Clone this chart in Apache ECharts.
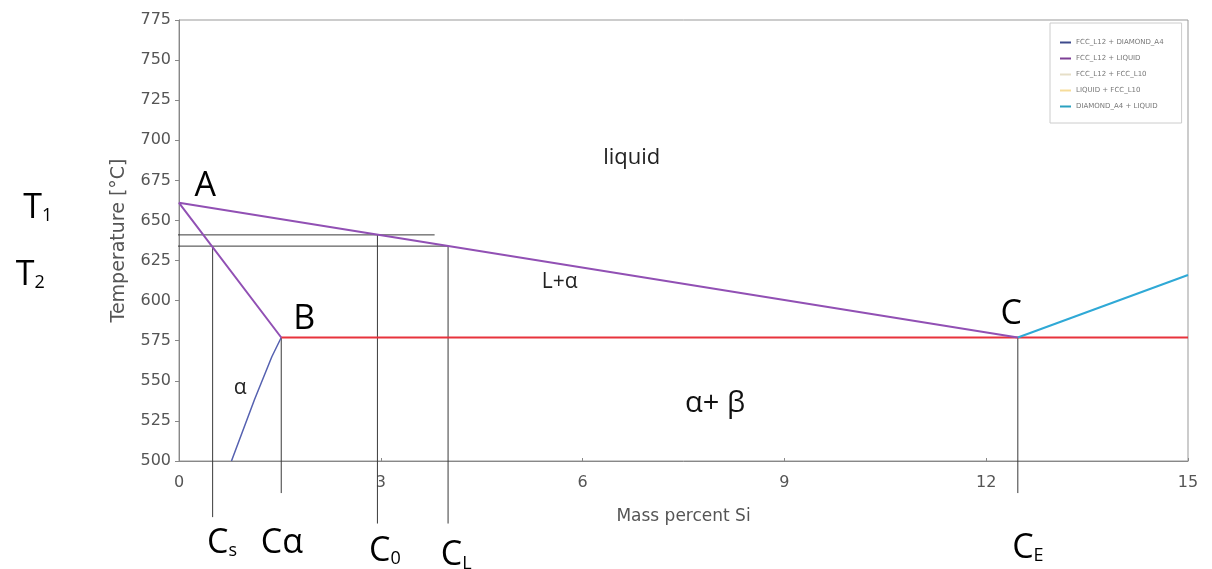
<!DOCTYPE html>
<html>
<head>
<meta charset="utf-8">
<script src="https://cdn.jsdelivr.net/npm/echarts@6/dist/echarts.min.js"></script>
<style>
html,body{margin:0;padding:0;background:#fff;}
#main{width:1212px;height:569px;}
</style>
</head>
<body>
<div id="main"></div>
<script>
// Al-Si phase diagram, Al rich side
var legendNames = ['FCC_L12 + DIAMOND_A4', 'FCC_L12 + LIQUID', 'FCC_L12 + FCC_L10', 'LIQUID + FCC_L10', 'DIAMOND_A4 + LIQUID'];

var liqSol = [[12.47, 577], [0, 661], [1.52, 577]];          // liquidus C-A + solidus A-B
var solvus = [[0.78, 500], [1.12, 538], [1.38, 565], [1.52, 577]];
var eutectic = [[1.52, 577], [15, 577]];
var siLiquidus = [[12.47, 577], [15, 616]];

// construction lines
var t1Line = [[-2.29, 641], [3.8, 641]];
var t2Line = [[-2.29, 634], [4.0, 634]];
var csLine = [[0.5, 634], [0.5, 465]];
var caLine = [[1.52, 577], [1.52, 480]];
var c0Line = [[2.95, 641], [2.95, 461]];
var clLine = [[4.0, 634], [4.0, 461]];
var ceLine = [[12.47, 577], [12.47, 480]];

// annotation text + anchor (data coords)
var pointText = ['A', 'B', 'C'];
var pointAt = [[0.39, 673], [1.86, 590], [12.37, 593.5]];
var regionText = ['liquid', 'L+α', 'α', 'α+ β'];
var regionAt = [[6.73, 689], [5.66, 611.6], [0.91, 545.5], [7.97, 536]];
var tText = [['T', '1'], ['T', '2']];
var tAt = [[-2.1, 659.6], [-2.21, 617.9]];
var cText = [['C', 's'], ['Cα', ''], ['C', '0'], ['C', 'L'], ['C', 'E']];
var cAt = [[0.64, 450.7], [1.53, 450.7], [3.06, 445.7], [4.12, 443], [12.62, 447.6]];

var chart = echarts.init(document.getElementById('main'));

function guide(d) {
  return {type: 'line', data: d, clip: false, symbol: 'none', silent: true,
    lineStyle: {color: '#3a3a3a', width: 1}, z: 1};
}

function textSeries(pos, texts, fmt, rich, z) {
  return {
    type: 'scatter', clip: false, symbolSize: 0, silent: true, z: z || 5,
    itemStyle: {opacity: 1},
    data: pos.map(function (p, i) { return {value: p, t: texts[i]}; }),
    label: {show: true, position: 'inside', color: '#000', textBorderWidth: 0,
      formatter: function (p) { return fmt(p.data.t); }, rich: rich}
  };
}

var subRich = {
  b: {fontFamily: 'Open Sans', fontSize: 34, color: '#000', lineHeight: 40, verticalAlign: 'bottom'},
  s: {fontFamily: 'Open Sans', fontSize: 18, color: '#000', lineHeight: 26, verticalAlign: 'bottom'}
};

var option = {
  backgroundColor: '#fff',
  animation: false,
  grid: {left: 179, right: 24, top: 20, bottom: 108, show: true, borderColor: '#999', borderWidth: 1},
  legend: {
    data: legendNames, orient: 'vertical', left: 1050, top: 23,
    padding: [15, 18, 12, 10], itemGap: 7, itemWidth: 11, itemHeight: 2, icon: 'rect',
    borderColor: '#ccc', borderWidth: 1,
    textStyle: {fontFamily: 'DejaVu Sans', fontSize: 7, color: '#777', lineHeight: 9}
  },
  xAxis: {
    type: 'value', min: 0, max: 15, interval: 3,
    name: 'Mass percent Si', nameLocation: 'middle', nameGap: 47,
    nameTextStyle: {fontFamily: 'DejaVu Sans', fontSize: 17, color: '#555'},
    axisLine: {lineStyle: {color: '#888'}},
    axisTick: {inside: true, length: 3, lineStyle: {color: '#888'}},
    axisLabel: {margin: 14, fontFamily: 'DejaVu Sans', fontSize: 16, color: '#555'},
    splitLine: {show: false}
  },
  yAxis: {
    type: 'value', min: 500, max: 775, interval: 25,
    name: 'Temperature [°C]', nameLocation: 'middle', nameGap: 50,
    nameTextStyle: {fontFamily: 'DejaVu Sans', fontSize: 19, color: '#555'},
    axisLine: {show: true, lineStyle: {color: '#888'}},
    axisTick: {show: true, length: 4, lineStyle: {color: '#888'}},
    axisLabel: {margin: 8, fontFamily: 'DejaVu Sans', fontSize: 16, color: '#555'},
    splitLine: {show: false}
  },
  series: [
    guide(t1Line), guide(t2Line), guide(csLine), guide(caLine),
    guide(c0Line), guide(clLine), guide(ceLine),
    {name: legendNames[0], type: 'line', data: solvus, symbol: 'none', z: 3,
      lineStyle: {color: '#5561b0', width: 1.5}, itemStyle: {color: '#3d4a8c'}},
    {name: legendNames[2], type: 'line', data: [], symbol: 'none', itemStyle: {color: '#e6dfc8'}},
    {name: legendNames[3], type: 'line', data: [], symbol: 'none', itemStyle: {color: '#f6dc9a'}},
    {name: 'eutectic', type: 'line', data: eutectic, symbol: 'none', z: 3,
      lineStyle: {color: '#e8333c', width: 2}},
    {name: legendNames[1], type: 'line', data: liqSol, symbol: 'none', z: 4,
      lineStyle: {color: '#9150b4', width: 2}, itemStyle: {color: '#7d3f95'}},
    {name: legendNames[4], type: 'line', data: siLiquidus, symbol: 'none', z: 4,
      lineStyle: {color: '#2fa9d6', width: 2}, itemStyle: {color: '#2aa1c0'}},
    textSeries(pointAt, pointText, function (t) { return '{b|' + t + '}'; }, subRich),
    textSeries(regionAt.slice(0, 1), regionText.slice(0, 1), function (t) { return '{r|' + t + '}'; },
      {r: {fontFamily: 'Open Sans', fontSize: 22, color: '#222'}}),
    textSeries(regionAt.slice(1, 3), regionText.slice(1, 3), function (t) { return '{r|' + t + '}'; },
      {r: {fontFamily: 'Open Sans', fontSize: 21, color: '#222'}}),
    textSeries(regionAt.slice(3), regionText.slice(3), function (t) { return '{r|' + t + '}'; },
      {r: {fontFamily: 'Open Sans', fontSize: 29, color: '#111'}}),
    textSeries(tAt, tText, function (t) { return '{b|' + t[0] + '}{s|' + t[1] + '}'; }, subRich),
    textSeries(cAt, cText, function (t) { return '{b|' + t[0] + '}' + (t[1] ? '{s|' + t[1] + '}' : ''); }, subRich)
  ]
};

chart.setOption(option);
</script>
</body>
</html>
